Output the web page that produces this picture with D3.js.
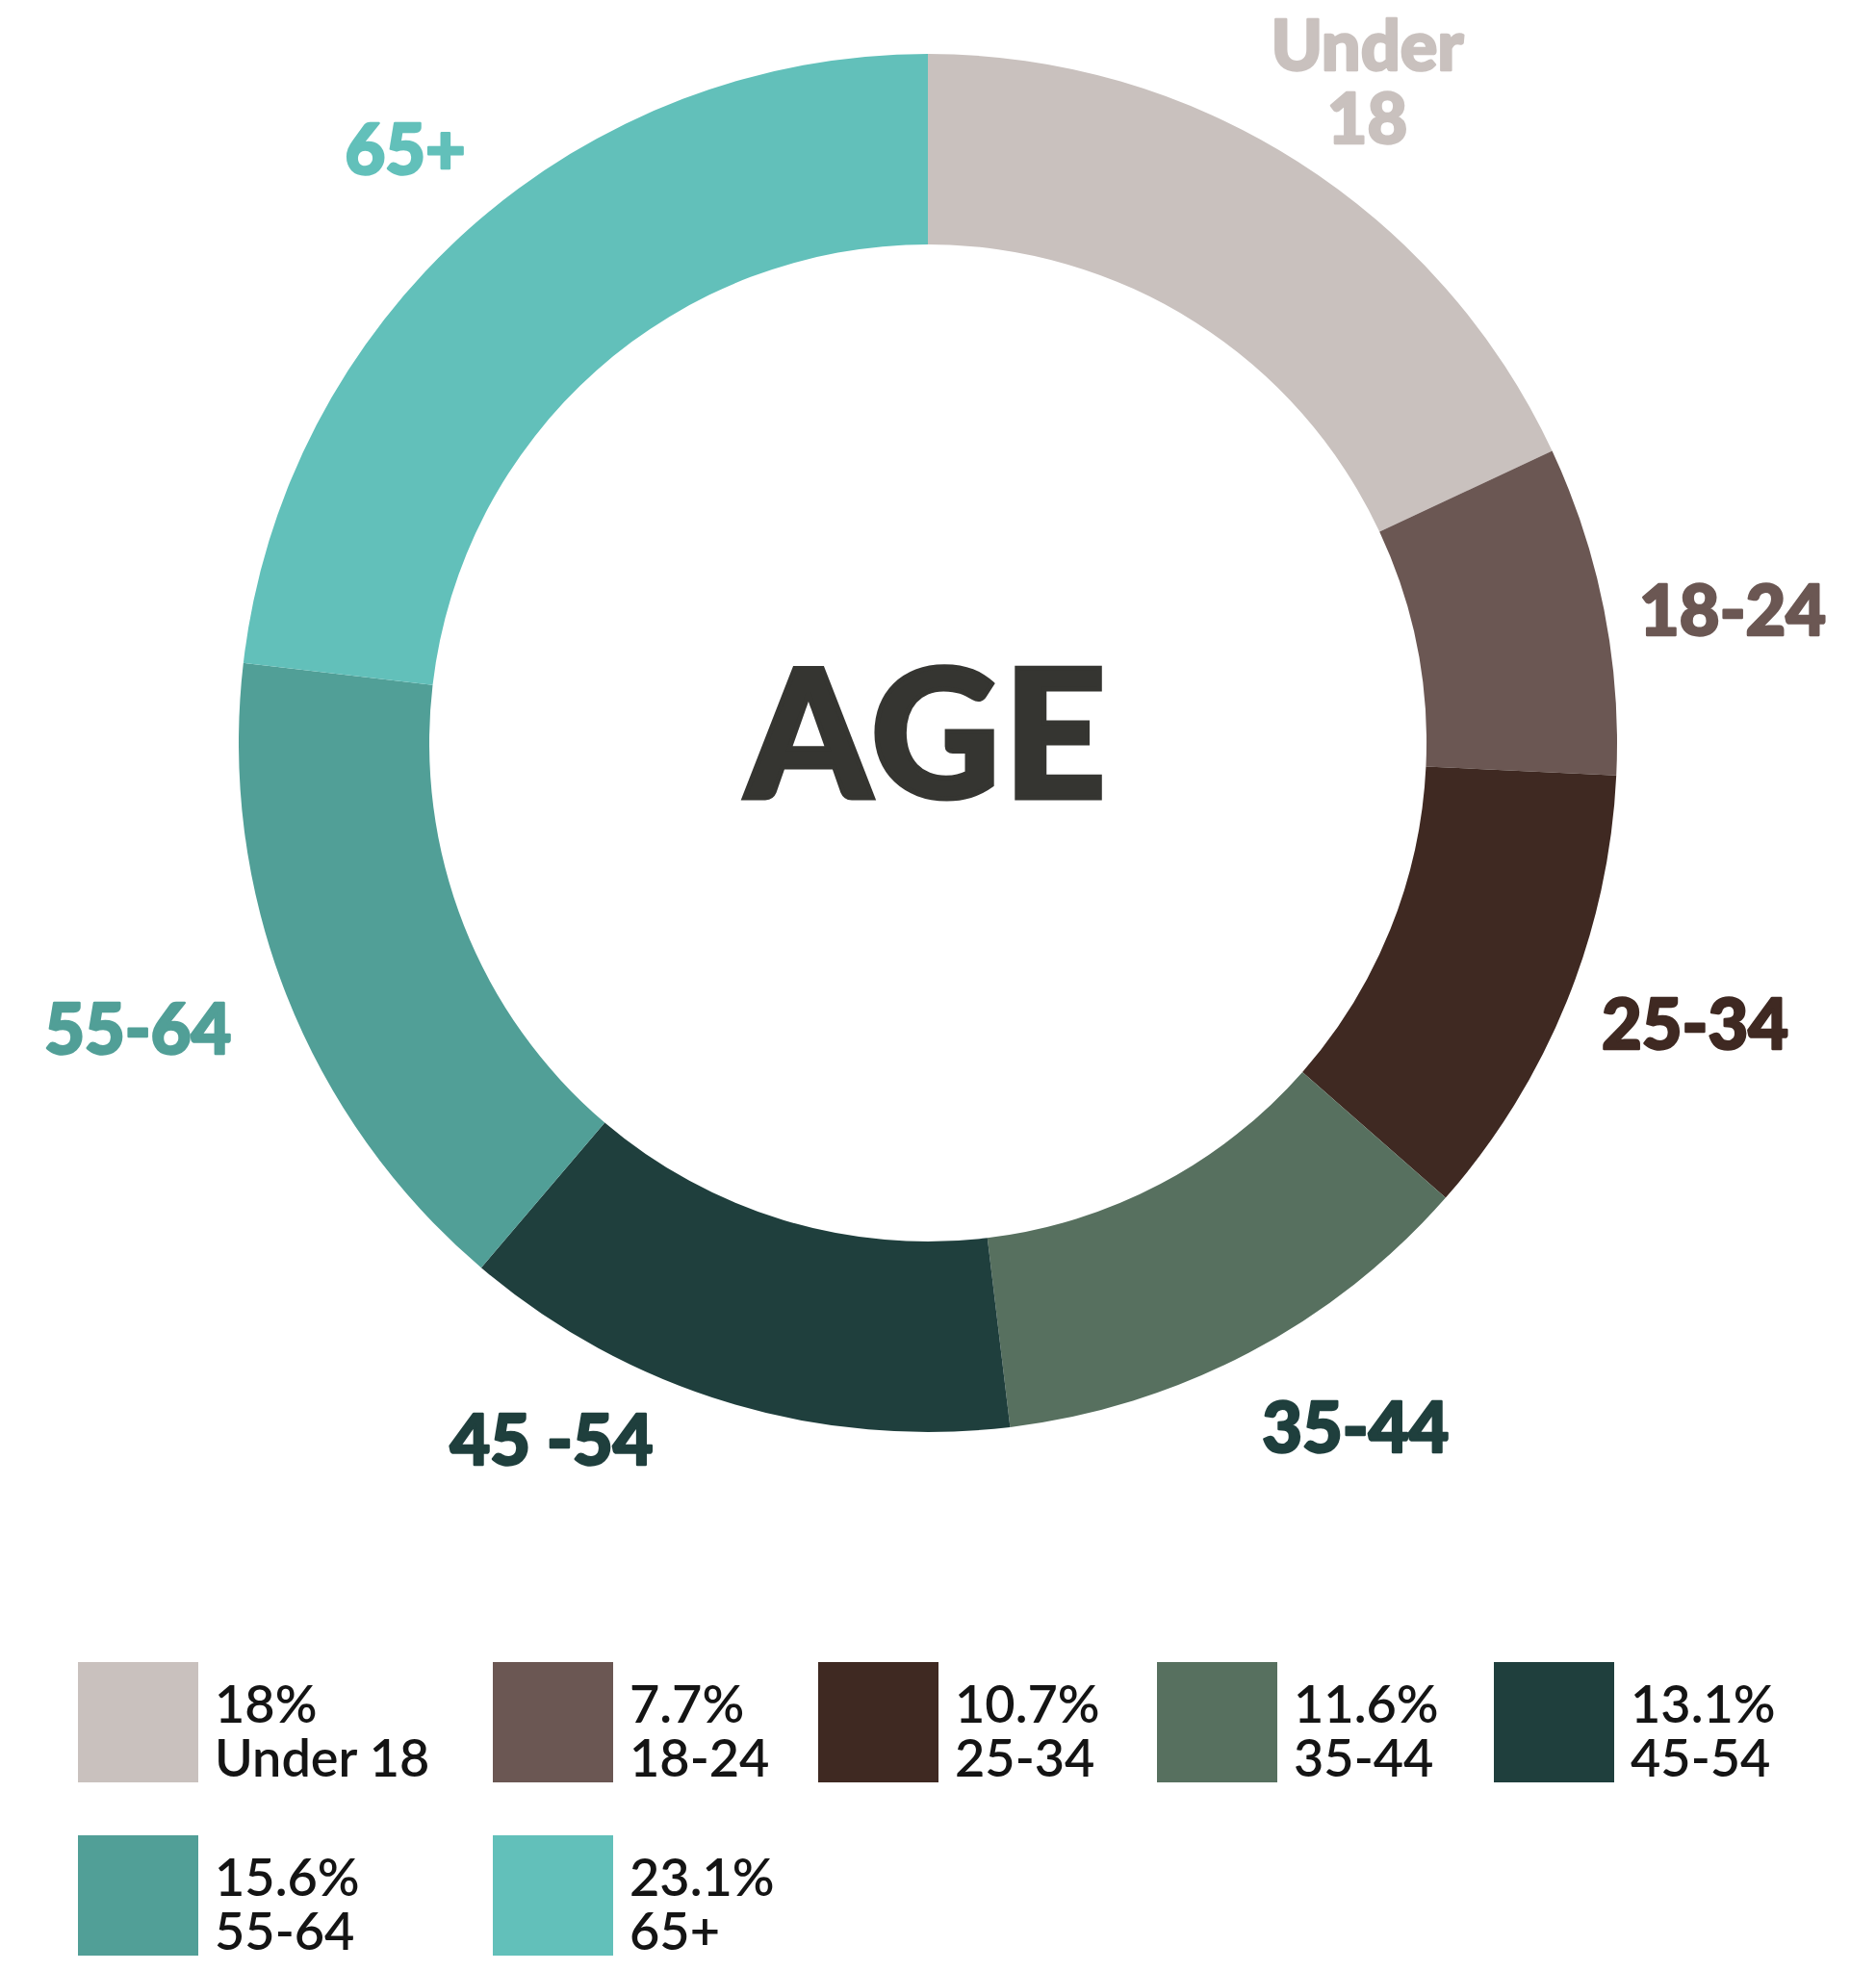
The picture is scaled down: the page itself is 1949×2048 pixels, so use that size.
<!DOCTYPE html>
<html>
<head>
<meta charset="utf-8">
<script src="https://cdn.jsdelivr.net/npm/d3@7"></script>
<style>
  html, body { margin: 0; padding: 0; background: #fff; }
  svg { display: block; }
</style>
</head>
<body>
<script>
// ---- data ----
const categories = ["Under 18", "18-24", "25-34", "35-44", "45-54", "55-64", "65+"];
const values = [18, 7.7, 10.7, 11.6, 13.1, 15.6, 23.1];
const valueLabels = ["18%", "7.7%", "10.7%", "11.6%", "13.1%", "15.6%", "23.1%"];
const sliceLabels = [["Under", "18"], ["18-24"], ["25-34"], ["35-44"], ["45 -54"], ["55-64"], ["65+"]];
const colors = ["#c9c1be", "#6b5753", "#3f2922", "#57705f", "#1f3f3d", "#519f97", "#62c0ba"];
const labelColors = ["#c9c1be", "#6b5753", "#3f2922", "#1f3f3d", "#1f3f3d", "#519f97", "#62c0ba"];

// ---- layout ----
const W = 1949, H = 2048;
const cx = 964, cy = 772, rOuter = 716, rInner = 518;
// label placement: angular shift (deg) and radius from centre
const labelShift = [1.5, 2.4, -1.3, -3.9, 11.3, 1, -0.1];
const labelRadius = [817, 846, 852, 846, 831, 876, 815];
const legendCols = [81, 512, 850, 1202, 1552];
const legendRows = [1727, 1907];
const swatch = 125;

const svg = d3.select("body").append("svg").attr("width", W).attr("height", H);

const data = categories.map((c, i) => ({ cat: c, value: values[i], i }));
const pie = d3.pie().value(d => d.value).sort(null);
const arc = d3.arc().innerRadius(rInner).outerRadius(rOuter);
const arcs = pie(data);

const g = svg.append("g").attr("transform", `translate(${cx},${cy})`);
g.selectAll("path.slice").data(arcs).join("path")
  .attr("class", "slice")
  .attr("d", arc)
  .attr("fill", d => colors[d.data.i]);

// slice labels
const fontFam = "'Lato Black', Lato, 'Open Sans', sans-serif";
arcs.forEach(d => {
  const i = d.data.i;
  const a = (d.startAngle + d.endAngle) / 2 + labelShift[i] * Math.PI / 180;
  const r = labelRadius[i];
  const x = Math.sin(a) * r, y = -Math.cos(a) * r;
  const lines = sliceLabels[i];
  const lh = 76;
  const t = g.append("text")
    .attr("x", x)
    .attr("text-anchor", "middle")
    .attr("font-family", fontFam)
    .attr("font-weight", 900)
    .attr("font-size", 72)
    .attr("fill", labelColors[i])
    .attr("stroke", labelColors[i])
    .attr("stroke-width", 2.5)
    .attr("stroke-linejoin", "round");
  lines.forEach((ln, k) => {
    t.append("tspan")
      .attr("x", x)
      .attr("y", y + 17 + (k - (lines.length - 1) / 2) * lh)
      .text(ln);
  });
});

// centre title
g.append("text")
  .attr("x", 0).attr("y", 829 - cy)
  .attr("text-anchor", "middle")
  .attr("font-family", fontFam)
  .attr("font-weight", 900)
  .attr("font-size", 185)
  .attr("letter-spacing", 4)
  .attr("fill", "#353531")
  .attr("stroke", "#353531")
  .attr("stroke-width", 5)
  .attr("stroke-linejoin", "miter")
  .text("AGE");

// legend
const leg = svg.append("g");
data.forEach((d, i) => {
  const col = i % 5, row = Math.floor(i / 5);
  const x = legendCols[col], y = legendRows[row];
  leg.append("rect")
    .attr("x", x).attr("y", y)
    .attr("width", swatch).attr("height", swatch)
    .attr("fill", colors[i]);
  const fs = 54;
  leg.append("text")
    .attr("x", x + swatch + 17).attr("y", y + 63)
    .attr("font-family", "Lato, sans-serif")
    .attr("font-weight", 600)
    .attr("font-size", fs)
    .attr("fill", "#141414")
    .text(valueLabels[i]);
  leg.append("text")
    .attr("x", x + swatch + 17).attr("y", y + 119)
    .attr("font-family", "Lato, sans-serif")
    .attr("font-weight", 600)
    .attr("font-size", fs)
    .attr("fill", "#141414")
    .text(d.cat);
});
</script>
</body>
</html>
